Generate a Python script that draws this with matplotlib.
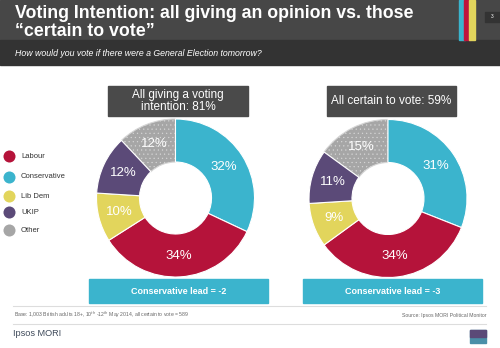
import matplotlib
matplotlib.use("Agg")
from matplotlib import pyplot as plt
from matplotlib.patches import Rectangle

plt.rcParams['font.family'] = ['Liberation Sans', 'DejaVu Sans']
plt.rcParams['hatch.linewidth'] = 0.35

# data
parties = ["Labour", "Conservative", "Lib Dem", "UKIP", "Other"]
colors = ["#b5133a", "#3bb4cd", "#e2d55c", "#5b4a78", "#a6a6a6"]
# clockwise order from the top of each ring
ring_order = ["Conservative", "Labour", "Lib Dem", "UKIP", "Other"]
all_giving = [32, 34, 10, 12, 12]
certain = [31, 34, 9, 11, 15]
ring_titles = ["All giving a voting\nintention: 81%", "All certain to vote: 59%"]
lead_texts = ["Conservative lead = -2", "Conservative lead = -3"]

W, H = 500, 348
fig = plt.figure(figsize=(5, 3.48), dpi=100)
ax = fig.add_axes([0, 0, 1, 1])
ax.set_xlim(0, W)
ax.set_ylim(0, H)
ax.axis('off')

def Y(p):  # pixel row -> data y
    return H - p

# header bands
ax.add_patch(Rectangle((0, Y(40)), W, 40, color="#474747", zorder=1))
ax.add_patch(Rectangle((0, Y(65)), W, 25, color="#333333", zorder=1))
for x0, c in [(459, "#3bb4cd"), (464, "#c0143c"), (469, "#e2d55c")]:
    ax.add_patch(Rectangle((x0, Y(40)), 5.5, 40, color=c, zorder=2))
ax.add_patch(Rectangle((485, Y(22)), 15, 10, color="#333333", zorder=2))
ax.text(492, Y(17), "3", color="white", fontsize=3.5, ha='center', va='center', zorder=3)

ax.text(15, Y(5), "Voting Intention: all giving an opinion vs. those\n\u201ccertain to vote\u201d",
        color="white", fontsize=12.8, fontweight='bold', ha='left', va='top',
        linespacing=1.05, zorder=3)
ax.text(15, Y(53), "How would you vote if there were a General Election tomorrow?",
        color="white", fontsize=6.3, style='italic', ha='left', va='center', zorder=3)

# legend
leg_y = [156, 177, 196, 212, 230]
for p, c, yy in zip(parties, colors, leg_y):
    ax.scatter([9], [Y(yy)], s=75, color=c, zorder=3, linewidths=0)
    ax.text(21, Y(yy), p, fontsize=5.5, color="#333333", ha='left', va='center')

# rings
centers = [(175.5, 198), (388, 198.5)]
radius = 79
title_boxes = [(108, 86, 140, 30), (327, 86, 129, 30)]
lead_boxes = [(89, 279, 179, 24), (303, 279, 179, 24)]
ring_colors = [colors[parties.index(p)] for p in ring_order]

for vals, (cx, cy), tb, lb, tt, lt in zip([all_giving, certain], centers, title_boxes,
                                          lead_boxes, ring_titles, lead_texts):
    wedges, _, pct = ax.pie(vals, colors=ring_colors, center=(cx, Y(cy)), radius=radius,
                            startangle=90, counterclock=False,
                            autopct=lambda v: "%d%%" % round(v), pctdistance=0.73,
                            wedgeprops=dict(width=43, edgecolor="white", linewidth=0.8),
                            textprops=dict(color="white", fontsize=9.5))
    wedges[-1].set_hatch('....')
    wedges[-1].set_edgecolor("#d6d6d6")
    for w in wedges[:-1]:
        w.set_zorder(2)
    x0, y0, bw, bh = tb
    ax.add_patch(Rectangle((x0, Y(y0 + bh)), bw, bh, color="#4a4a4a", zorder=3))
    ax.text(x0 + bw / 2, Y(y0 + bh / 2), tt, color="white", fontsize=8.5,
            ha='center', va='center', linespacing=0.95, zorder=4)
    x0, y0, bw, bh = lb
    ax.add_patch(Rectangle((x0, Y(y0 + bh)), bw, bh, color="#3bb4cd", zorder=3))
    ax.text(x0 + bw / 2, Y(y0 + bh / 2), lt, color="white", fontsize=6.5,
            fontweight='bold', ha='center', va='center', zorder=4)

ax.set_xlim(0, W)
ax.set_ylim(0, H)
ax.set_aspect('auto')

# footer
ax.plot([13, 486], [Y(306), Y(306)], color="#dddddd", lw=0.8)
ax.plot([13, 486], [Y(324), Y(324)], color="#dddddd", lw=0.8)
ax.text(14, Y(315), "Base: 1,003 British adults 18+, 10$^{th}$ -12$^{th}$ May 2014, all certain to vote = 589",
        fontsize=3.7, color="#666666", ha='left', va='center')
ax.text(486, Y(315), "Source: Ipsos MORI Political Monitor", fontsize=3.7,
        color="#666666", ha='right', va='center')
ax.text(13, Y(334), "Ipsos MORI", fontsize=6.6, color="#3f4a5a", ha='left', va='center')
ax.add_patch(Rectangle((470, Y(343)), 16, 13, color="#4a8fa8"))
ax.add_patch(Rectangle((470, Y(337)), 16, 7, color="#5b4a78"))

fig.savefig("out.png", dpi=100)
